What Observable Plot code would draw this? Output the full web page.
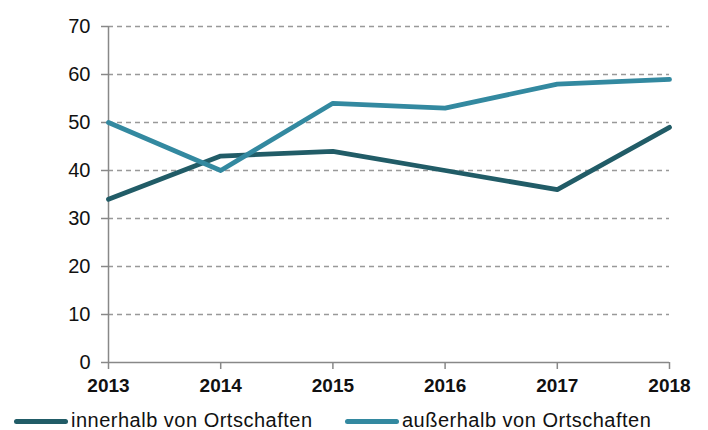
<!DOCTYPE html>
<html>
<head>
<meta charset="utf-8">
<script src="https://cdn.jsdelivr.net/npm/d3@7"></script>
<script src="https://cdn.jsdelivr.net/npm/@observablehq/plot@0.6"></script>
<style>
  html, body { margin: 0; padding: 0; background: #fff; overflow: hidden; }
  #wrap { position: relative; width: 708px; height: 430px; font-family: "Liberation Sans", Arial, sans-serif; }
  .leg { position: absolute; top: 410px; display: flex; align-items: center; font-size: 20px; line-height: 20px; letter-spacing: 0.5px; color: #111; height: 20px; white-space: nowrap; }
  .sw { width: 54px; height: 5px; border-radius: 3px; margin-right: 3px; margin-top: 2px; }
</style>
</head>
<body>
<div id="wrap"></div>
<script>
const years = [2013, 2014, 2015, 2016, 2017, 2018];
const innerhalb = [34, 43, 44, 40, 36, 49];
const ausserhalb = [50, 40, 54, 53, 58, 59];
const yTicks = [0, 10, 20, 30, 40, 50, 60, 70];
const seriesNames = ["innerhalb von Ortschaften", "außerhalb von Ortschaften"];
const seriesColors = ["#215c67", "#3389a0"];

const data = [];
years.forEach((y, i) => {
  data.push({year: y, value: innerhalb[i], series: seriesNames[0]});
  data.push({year: y, value: ausserhalb[i], series: seriesNames[1]});
});

const chart = Plot.plot({
  width: 708,
  height: 404,
  marginLeft: 108,
  marginRight: 39,
  marginTop: 26,
  marginBottom: 42,
  style: {fontFamily: "Liberation Sans, Arial, sans-serif", fontSize: "19px", color: "#111", background: "#fff"},
  x: {domain: [2013, 2018]},
  y: {domain: [0, 70]},
  color: {domain: seriesNames, range: seriesColors},
  marks: [
    Plot.ruleY(yTicks.filter(d => d > 0), {stroke: "#999", strokeWidth: 1.3, strokeDasharray: "5,4", strokeOpacity: 1}),
    Plot.axisY({ticks: yTicks, tickSize: 7, tickPadding: 11, stroke: "#888", strokeOpacity: 1, strokeWidth: 1.5, label: null, fontSize: 20, style: {letterSpacing: "0.8px"}}),
    Plot.axisX({ticks: years, tickFormat: d3.format("d"), tickSize: 7, tickPadding: 9, stroke: "#888", strokeOpacity: 1, strokeWidth: 1.5, label: null, fontSize: 19, fontWeight: "bold", style: {letterSpacing: "0.8px"}}),
    Plot.ruleX([2013], {y1: 0, y2: 70, stroke: "#888", strokeWidth: 1.5}),
    Plot.ruleY([0], {stroke: "#888", strokeWidth: 1.5}),
    Plot.line(data, {x: "year", y: "value", z: "series", stroke: "series", strokeWidth: 4.8, strokeLinejoin: "round", strokeLinecap: "round"})
  ]
});
const wrap = document.getElementById("wrap");
wrap.appendChild(chart);

const lefts = [14, 345];
seriesNames.forEach((n, i) => {
  const d = document.createElement("div");
  d.className = "leg";
  d.style.left = lefts[i] + "px";
  const sw = document.createElement("div");
  sw.className = "sw";
  sw.style.background = seriesColors[i];
  const t = document.createElement("span");
  t.textContent = n;
  d.appendChild(sw);
  d.appendChild(t);
  wrap.appendChild(d);
});
</script>
</body>
</html>
